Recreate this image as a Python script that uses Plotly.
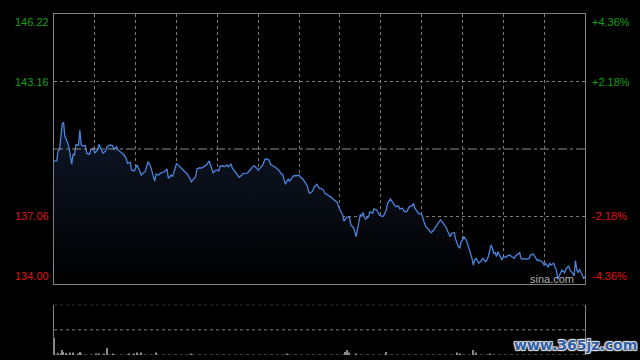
import plotly.graph_objects as go
from plotly.subplots import make_subplots

# ---- data (minutes from open, price) ----
minutes = [0, 2, 3, 4, 6, 7, 8, 9, 11, 13,
           14, 15, 16, 18, 19, 20, 21, 23, 24, 26,
           27, 29, 30, 32, 33, 35, 36, 38, 39, 41,
           43, 44, 46, 47, 49, 51, 53, 54, 56, 57,
           59, 60, 61, 63, 64, 66, 67, 69, 70, 71,
           73, 74, 75, 77, 78, 80, 81, 83, 84, 86,
           87, 89, 90, 91, 93, 94, 95, 97, 98, 100,
           101, 102, 104, 105, 107, 108, 110, 112, 114, 115,
           117, 118, 120, 121, 122, 124, 125, 127, 128, 130,
           131, 133, 134, 136, 138, 139, 142, 143, 144, 146,
           147, 149, 150, 152, 153, 155, 156, 158, 159, 161,
           162, 164, 165, 167, 168, 169, 170, 171, 172, 173,
           175, 176, 178, 180, 181, 183, 184, 186, 187, 188,
           190, 191, 192, 193, 195, 196, 198, 199, 201, 202,
           204, 205, 207, 208, 209, 211, 212, 213, 214, 215,
           217, 218, 220, 221, 222, 223, 224, 225, 226, 227,
           228, 229, 231, 232, 234, 235, 237, 238, 239, 241,
           242, 244, 245, 247, 248, 250, 251, 253, 254, 256,
           257, 259, 260, 261, 263, 264, 265, 267, 268, 270,
           271, 272, 273, 275, 276, 277, 279, 280, 281, 282,
           284, 285, 287, 288, 289, 291, 292, 294, 295, 296,
           297, 298, 299, 300, 301, 303, 304, 305, 306, 307,
           308, 309, 310, 311, 312, 314, 315, 317, 318, 319,
           320, 321, 322, 323, 324, 325, 326, 328, 329, 330,
           332, 333, 335, 336, 338, 339, 341, 342, 343, 344,
           346, 347, 349, 350, 352, 353, 355, 356, 358, 359,
           360, 361, 363, 364, 365, 367, 368, 369, 370, 372,
           373, 375, 376, 378, 379, 381, 382, 383, 384, 385,
           386, 388, 389, 390]

prices = [139.57, 139.57, 140.02, 140.07, 141.23, 141.33, 140.67, 140.56, 140.21, 139.42,
          139.87, 139.84, 140.29, 140.29, 140.97, 140.29, 140.25, 140.27, 139.92, 139.87,
          140.07, 140.14, 139.92, 140.07, 140.32, 140.07, 139.92, 140.02, 140.21, 140.29,
          140.27, 140.11, 140.21, 140.07, 139.96, 139.87, 139.69, 139.46, 139.51, 139.16,
          139.12, 139.24, 139.39, 139.12, 138.93, 139.06, 139.08, 139.54, 139.39, 139.31,
          138.86, 138.66, 138.97, 138.93, 139.01, 139.06, 139.08, 139.21, 138.78, 138.93,
          138.86, 139.24, 139.46, 139.39, 139.26, 139.19, 139.12, 139.01, 138.97, 138.75,
          138.63, 138.71, 138.86, 139.21, 139.26, 139.24, 139.31, 139.39, 139.57, 139.39,
          139.01, 139.12, 139.16, 139.12, 139.34, 139.35, 139.31, 139.39, 139.31, 139.42,
          139.24, 139.08, 139.01, 138.83, 138.93, 139.01, 139.02, 139.08, 139.16, 139.31,
          139.35, 139.24, 139.15, 139.29, 139.35, 139.65, 139.66, 139.61, 139.42, 139.34,
          139.31, 139.21, 139.16, 138.97, 138.97, 138.71, 138.51, 138.66, 138.75, 138.66,
          138.86, 138.90, 138.90, 138.93, 138.84, 138.74, 138.63, 138.45, 138.18, 138.10,
          138.21, 138.39, 138.45, 138.51, 138.33, 138.33, 138.25, 138.10, 138.03, 138.00,
          137.91, 137.83, 137.76, 137.70, 137.50, 137.27, 137.12, 136.85, 136.94, 137.03,
          137.03, 136.67, 136.55, 136.37, 136.14, 136.52, 136.90, 137.15, 137.05, 137.24,
          137.00, 136.94, 137.05, 137.27, 137.20, 137.40, 137.35, 137.24, 137.12, 137.05,
          137.08, 137.35, 137.65, 137.85, 137.76, 137.61, 137.50, 137.53, 137.40, 137.43,
          137.30, 137.27, 137.43, 137.50, 137.53, 137.65, 137.43, 137.23, 137.17, 137.17,
          136.90, 136.77, 136.62, 136.48, 136.37, 136.32, 136.44, 136.57, 136.62, 136.75,
          136.90, 136.82, 136.62, 136.57, 136.41, 136.14, 136.29, 136.32, 136.02, 135.84,
          135.69, 135.62, 135.92, 135.99, 136.14, 135.96, 135.77, 135.62, 135.46, 135.16,
          134.86, 135.09, 135.16, 135.06, 134.94, 135.06, 135.16, 135.01, 135.09, 135.24,
          135.54, 135.77, 135.62, 135.39, 135.42, 135.24, 135.46, 135.16, 135.09, 135.24,
          135.21, 135.27, 135.31, 135.24, 135.16, 135.27, 135.39, 135.42, 135.16, 135.12,
          135.16, 135.12, 135.16, 135.31, 135.36, 135.24, 135.06, 135.09, 135.01, 134.97,
          134.86, 134.94, 134.76, 134.94, 134.86, 134.94, 134.76, 134.63, 134.21, 134.48,
          134.63, 134.51, 134.67, 134.82, 134.63, 134.48, 134.36, 135.06, 134.63, 134.51,
          134.67, 134.41, 134.26, 134.33]

vol_minutes = [0, 3, 5, 6, 7, 9, 12, 14, 18, 19, 20, 31, 33, 37, 39, 43, 55, 59, 61, 64,
               75, 101, 171, 214, 215, 217, 222, 244, 296, 298, 308, 310, 320]
vol_values = [34, 4, 4, 10, 6, 4, 5, 5, 3, 6, 3, 3, 3, 3, 14, 3, 3, 3, 5, 5,
              5, 3, 3, 6, 10, 5, 3, 6, 5, 3, 10, 5, 3]
vol_grid = [0, 50, 100]

prev_close = 140.11
price_ticks = [146.22, 143.16, 137.06, 134.00]
pct_labels = ["+4.36%", "+2.18%", "-2.18%", "-4.36%"]
label_colors = ["#12a012", "#12a012", "#e01010", "#e01010"]

assert len(minutes) == len(prices)
assert len(vol_minutes) == len(vol_values)

GRID = "#7a7a7a"
FRAME = "#808080"
FONT = "Liberation Sans, Arial, sans-serif"

fig = make_subplots(rows=2, cols=1, shared_xaxes=False, vertical_spacing=0.0)

fig.add_trace(go.Scatter(
    x=minutes, y=prices, mode="lines",
    line=dict(color="#4a84dc", width=1.3),
    fill="tozeroy",
    fillgradient=dict(type="vertical",
                      colorscale=[[0, "rgb(0,0,0)"], [1, "rgb(15,23,40)"]],
                      start=134.0, stop=141.4),
    hoverinfo="skip", showlegend=False), row=1, col=1)

fig.add_trace(go.Bar(
    x=vol_minutes, y=vol_values, width=0.8,
    marker=dict(color="#8a8a8a", line=dict(width=0)),
    hoverinfo="skip", showlegend=False), row=2, col=1)

main_dom = [(355 - 284) / 341, 1.0]
vol_dom = [0.0, (355 - 304.7) / 341]

fig.update_layout(
    width=640, height=360,
    paper_bgcolor="black", plot_bgcolor="black",
    margin=dict(l=54, r=55, t=14, b=5),
    font=dict(family=FONT, size=11),
    xaxis=dict(domain=[0, 1], range=[0, 390], dtick=30, tick0=0,
               showgrid=True, gridcolor=GRID, griddash="dot", gridwidth=1,
               showline=True, linecolor=FRAME, linewidth=1, mirror=True,
               showticklabels=False, ticks="", zeroline=False),
    yaxis=dict(domain=main_dom, range=[134.0, 146.22],
               tickvals=[143.16, 137.06],
               showgrid=True, gridcolor=GRID, griddash="dot", gridwidth=1,
               showline=True, linecolor=FRAME, linewidth=1, mirror=True,
               showticklabels=False, ticks="", zeroline=False),
    xaxis2=dict(domain=[0, 1], range=[0, 390], showgrid=False,
                showline=False, showticklabels=False, ticks="", zeroline=False),
    yaxis2=dict(domain=vol_dom, range=[0, 100], showgrid=False,
                showline=True, linecolor=FRAME, linewidth=1, mirror=True,
                showticklabels=False, ticks="", zeroline=False),
)

# dotted guide lines in the volume panel (top, middle, bottom)
for gv in vol_grid:
    fig.add_shape(type="line", xref="x2", yref="y2", x0=0, x1=390, y0=gv, y1=gv,
                  line=dict(color=GRID, width=1, dash="dot"), layer="below")

fig.add_shape(type="line", xref="x", yref="y", x0=0, x1=390,
              y0=prev_close, y1=prev_close,
              line=dict(color="#8a8a8a", width=1, dash="dashdot"))

anchors = ["top", "middle", "middle", "bottom"]
for val, pct, col, anc in zip(price_ticks, pct_labels, label_colors, anchors):
    fig.add_annotation(xref="paper", yref="y", x=0, y=val, text=f"{val:.2f}",
                       xanchor="right", yanchor=anc, xshift=-3, showarrow=False,
                       font=dict(color=col, size=11, family=FONT))
    fig.add_annotation(xref="paper", yref="y", x=1, y=val, text=pct,
                       xanchor="left", yanchor=anc, xshift=5, showarrow=False,
                       font=dict(color=col, size=11, family=FONT))

fig.add_annotation(xref="x", yref="y", x=366, y=134.23, text="sina.com",
                   xanchor="center", yanchor="middle", showarrow=False,
                   font=dict(color="#b0b0b0", size=11, family=FONT))

fig.add_annotation(xref="paper", yref="paper", x=(575 - 54) / 531, y=(355 - 345) / 341,
                   text="<b>www.365jz.com</b>", xanchor="center", yanchor="middle",
                   showarrow=False,
                   font=dict(color="#2f5ea8", size=14, family="DejaVu Sans, Verdana, sans-serif",
                             shadow="1px 1px 1px #e8e8e8, -1px -1px 1px #e8e8e8, 1px -1px 1px #e8e8e8, -1px 1px 1px #e8e8e8"))

fig.write_html("out.html", config={"displayModeBar": False},
               post_script="document.body.style.margin='0';document.body.style.background='black';")
